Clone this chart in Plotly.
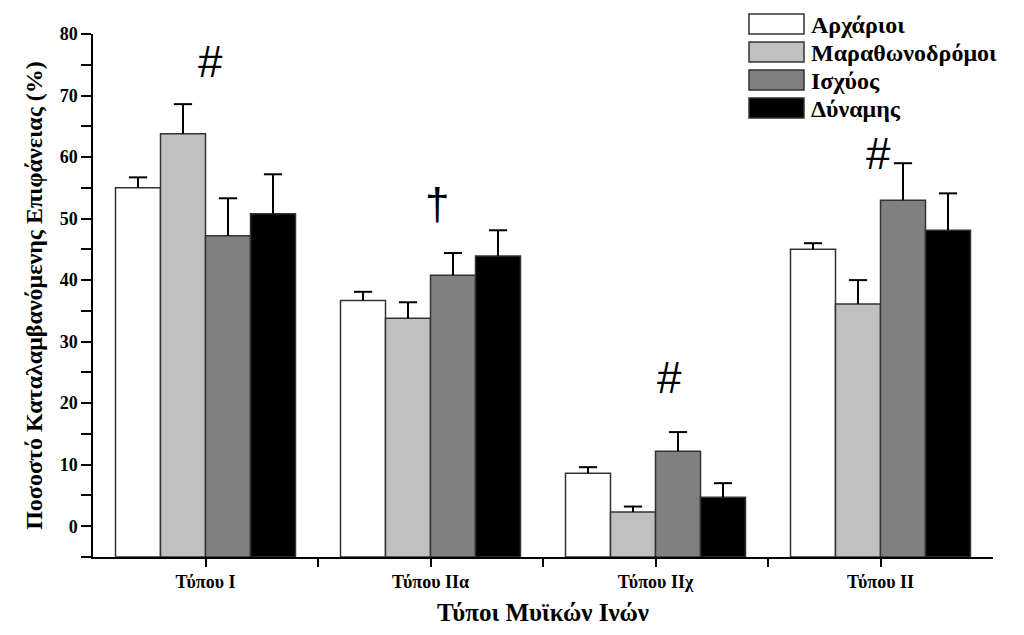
import plotly.graph_objects as go

categories = ["Τύπου Ι", "Τύπου ΙΙα", "Τύπου ΙΙχ", "Τύπου ΙΙ"]
series_names = ["Αρχάριοι", "Μαραθωνοδρόμοι", "Ισχύος", "Δύναμης"]
arxarioi = [55.0, 36.7, 8.6, 45.0]
marathon = [63.8, 33.8, 2.3, 36.1]
isxyos = [47.2, 40.8, 12.2, 53.0]
dynamis = [50.8, 43.9, 4.7, 48.1]
arxarioi_err = [1.7, 1.4, 1.0, 1.0]
marathon_err = [4.8, 2.6, 0.9, 3.9]
isxyos_err = [6.1, 3.6, 3.1, 6.0]
dynamis_err = [6.4, 4.2, 2.3, 6.0]
y_ticks = [0, 10, 20, 30, 40, 50, 60, 70, 80]
marks = ["#", "†", "#", "#"]
mark_x = [0.02, 1.03, 2.06, 2.99]
mark_y = [75.5, 52.5, 24.2, 60.5]

values = [arxarioi, marathon, isxyos, dynamis]
errors = [arxarioi_err, marathon_err, isxyos_err, dynamis_err]
colors = ["#ffffff", "#c0c0c0", "#808080", "#000000"]
BASE = -5

SERIF = "Liberation Serif, Times New Roman, serif"
fig = go.Figure()
xs = list(range(len(categories)))
for k, (name, vals, col) in enumerate(zip(series_names, values, colors)):
    fig.add_trace(go.Bar(
        x=xs, y=[v - BASE for v in vals], base=BASE, name=name,
        offsetgroup=str(k),
        marker=dict(color=col, line=dict(color="#333333", width=1.5)),
        showlegend=False,
    ))
# error bars (upper only, drawn from bar top) as grouped scatter traces
for k, (name, vals, errs) in enumerate(zip(series_names, values, errors)):
    fig.add_trace(go.Scatter(
        x=xs, y=[v + e for v, e in zip(vals, errs)], mode="markers",
        orientation="v", offsetgroup=str(k), name=name + " SD",
        marker=dict(symbol="line-ew", size=13, color="black", line=dict(color="black", width=2)),
        error_y=dict(type="data", array=[0] * len(errs), arrayminus=errs, symmetric=False,
                     color="black", thickness=2, width=0),
        showlegend=False, hoverinfo="skip",
    ))

L, R, T, B = 93, 31, 34, 78
W, H = 1024, 635
pw, ph = W - L - R, H - T - B

def px(x):
    return (x - L) / pw

def py(y):
    return (H - B - y) / ph

shapes = []
annotations = []
# legend
row_centers = [24, 52, 80, 108]
for name, col, yc in zip(series_names, colors, row_centers):
    shapes.append(dict(type="rect", xref="paper", yref="paper",
                       x0=px(749), x1=px(804), y0=py(yc + 10), y1=py(yc - 10),
                       fillcolor=col, line=dict(color="#333333", width=1.5), layer="above"))
    annotations.append(dict(xref="paper", yref="paper", x=px(809), y=py(yc + 1),
                            text="<b>%s</b>" % name, showarrow=False, xanchor="left", yanchor="middle",
                            font=dict(family=SERIF, size=24, color="black")))
for m, mx, my in zip(marks, mark_x, mark_y):
    annotations.append(dict(x=mx, y=my, xref="x", yref="y", text=m, showarrow=False,
                            font=dict(family="Liberation Sans, Arial, sans-serif", size=44, color="black")))

fig.update_layout(
    width=W, height=H,
    margin=dict(l=L, r=R, t=T, b=B),
    plot_bgcolor="white", paper_bgcolor="white",
    barmode="group", bargap=0.2, bargroupgap=0,
    scattermode="group", scattergap=0.2,
    shapes=shapes, annotations=annotations,
    xaxis=dict(
        range=[-0.5, 3.5], tickmode="array", tickvals=xs,
        ticktext=["<b>%s</b>" % c for c in categories],
        ticks="outside", ticklen=8, tickwidth=1.5, tickcolor="black",
        minor=dict(tickvals=[0.5, 1.5, 2.5], ticks="outside", ticklen=8, tickwidth=1.5, tickcolor="black"),
        showline=True, linecolor="black", linewidth=1.5, showgrid=False, zeroline=False,
        tickfont=dict(family=SERIF, size=18, color="black"),
        title=dict(text="<b>Τύποι Μυϊκών Ινών</b>", font=dict(family=SERIF, size=25, color="black"), standoff=12),
    ),
    yaxis=dict(
        range=[-5, 80], tickmode="array", tickvals=y_ticks,
        ticktext=["<b>%d</b>" % t for t in y_ticks],
        ticks="outside", ticklen=10, tickwidth=1.5, tickcolor="black",
        minor=dict(dtick=5, tick0=-5, ticks="outside", ticklen=10, tickwidth=1.5, tickcolor="black"),
        showline=True, linecolor="black", linewidth=1.5, showgrid=False, zeroline=False,
        tickfont=dict(family=SERIF, size=18, color="black"),
        title=dict(text="<b>Ποσοστό Καταλαμβανόμενης Επιφάνειας (%)</b>", font=dict(family=SERIF, size=24, color="black"), standoff=10),
    ),
)
fig.write_html("out.html")
